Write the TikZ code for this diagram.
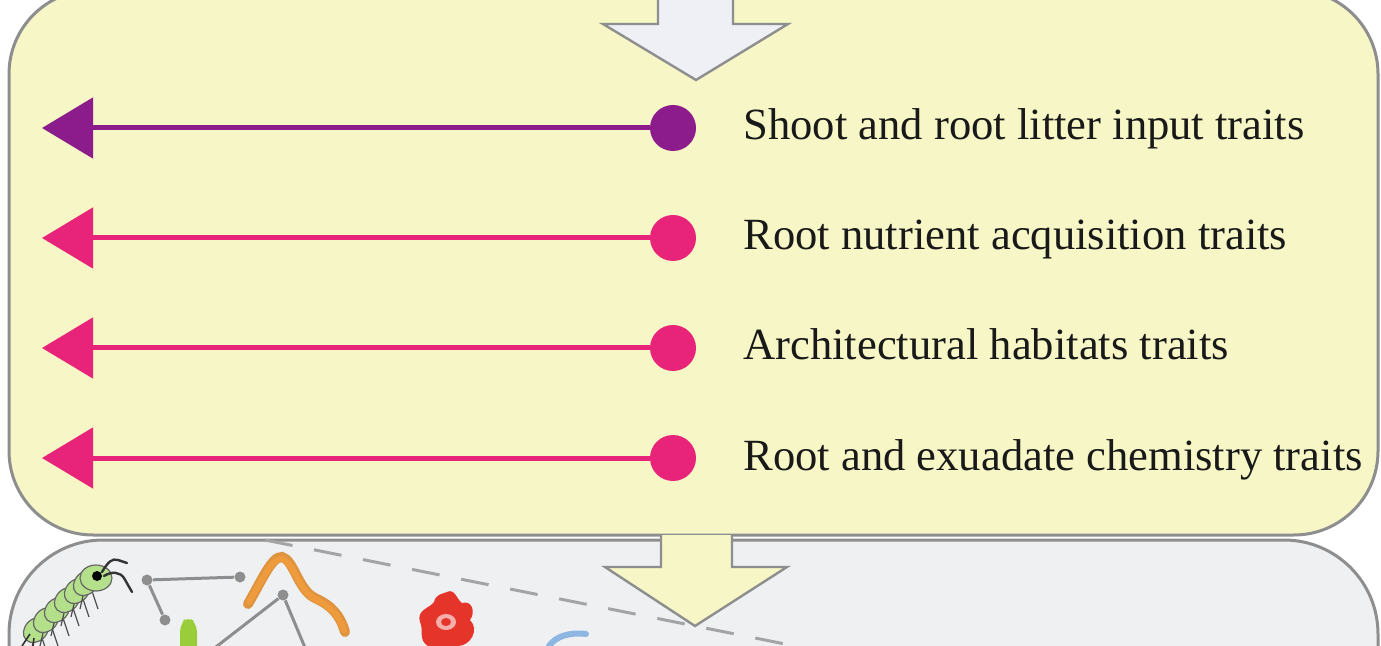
\documentclass[tikz,border=0pt]{standalone}
\usepackage{fontspec}
\setmainfont{Liberation Serif}
\usetikzlibrary{arrows.meta}
\definecolor{traitpurple}{HTML}{8C1C8C}
\definecolor{traitpink}{HTML}{E8247A}
\definecolor{panelyellow}{HTML}{F6F6C6}
\definecolor{panelgrey}{HTML}{EFF0F2}
\definecolor{edgegrey}{HTML}{8E8E8E}
\definecolor{arrowwhite}{HTML}{EEF0F6}
\definecolor{bugreen}{HTML}{B4E08C}
\definecolor{wormorange}{HTML}{EE9B3E}
\definecolor{amoebared}{HTML}{E5352B}
\definecolor{leafgreen}{HTML}{9ACD3A}
\definecolor{shellblue}{HTML}{8DB6E2}

\begin{document}
\begin{tikzpicture}[x=0.5pt,y=-0.5pt,
    panel/.style={draw=edgegrey, line width=1.5pt},
    bigarrow/.style={draw=edgegrey, line width=1.2pt, line join=miter},
    dot/.style={circle, inner sep=0pt, minimum size=23pt},
    trait/.style={line width=2.5pt, -{Triangle[length=25.5pt,width=30pt]}},
    traitname/.style={anchor=base west, inner sep=0pt, text=black!90, font=\fontsize{22.3}{26}\selectfont},
    netdot/.style={circle, fill=edgegrey, inner sep=0pt, minimum size=5.5pt}]
  \useasboundingbox (0,0) rectangle (1381,646);
  \clip (0,0) rectangle (1381,646);

  \draw[panel, fill=panelgrey, rounded corners=47pt] (9,540) rectangle (1378,800);
  \draw[panel, fill=panelyellow, rounded corners=42pt] (9,-10) rectangle (1378,535);

  \draw[bigarrow, fill=arrowwhite] (658,-10) -- (658,24) -- (603,24) -- (696,80)
    -- (788,24) -- (733,24) -- (733,-10);
  \draw[bigarrow, fill=panelyellow] (661,535) -- (661,567) -- (605,567) -- (695,626)
    -- (787,567) -- (732,567) -- (732,535);

  \node[dot, fill=traitpurple] (d1) at (673,128) {};
  \coordinate (t1) at (42,128);
  \draw[trait, traitpurple] (d1) -- (t1);
  \node[traitname] (n1) at (743,140) {Shoot and root litter input traits};

  \node[dot, fill=traitpink] (d2) at (673,238) {};
  \coordinate (t2) at (42,238);
  \draw[trait, traitpink] (d2) -- (t2);
  \node[traitname] (n2) at (743,250) {Root nutrient acquisition traits};

  \node[dot, fill=traitpink] (d3) at (673,348) {};
  \coordinate (t3) at (42,348);
  \draw[trait, traitpink] (d3) -- (t3);
  \node[traitname] (n3) at (743,360) {Architectural habitats traits};

  \node[dot, fill=traitpink] (d4) at (673,458) {};
  \coordinate (t4) at (42,458);
  \draw[trait, traitpink] (d4) -- (t4);
  \node[traitname] (n4) at (743,470) {Root and exuadate chemistry traits};

  % soil food web below
  \node[netdot] (w1) at (147,580) {};
  \node[netdot] (w2) at (240,577) {};
  \node[netdot] (w3) at (165,620) {};
  \node[netdot] (w4) at (283,595) {};
  \coordinate (w5) at (212,650);
  \coordinate (w6) at (306,650);
  \draw[edgegrey, line width=1.5pt] (w1) -- (w2) (w1) -- (w3) (w4) -- (w5) (w4) -- (w6);

  \fill[leafgreen, rounded corners=4pt] (180,646) -- (180,624) -- (188,616) -- (197,624) -- (197,646);

  \draw[wormorange!70!brown, line width=5pt, line cap=round]
    (248,604) .. controls (262,580) and (272,556) .. (282,557)
    .. controls (294,560) and (298,590) .. (315,598)
    .. controls (332,606) and (340,615) .. (345,632);
  \draw[wormorange, line width=3pt, line cap=round]
    (249,602) .. controls (262,580) and (272,558) .. (282,559)
    .. controls (294,562) and (298,590) .. (315,599)
    .. controls (331,607) and (339,616) .. (344,630);

  \fill[amoebared] (447,592) .. controls (455,588) and (457,600) .. (462,603)
    .. controls (472,600) and (476,612) .. (470,620)
    .. controls (480,630) and (470,646) .. (458,646)
    -- (428,646) .. controls (418,640) and (424,630) .. (420,622)
    .. controls (416,610) and (430,608) .. (434,602)
    .. controls (436,594) and (442,594) .. (447,592);
  \fill[amoebared!40!white] (446,622) ellipse (5pt and 4pt);
  \fill[amoebared] (446,622) ellipse (2.5pt and 2pt);

  \draw[shellblue, line width=3pt, line cap=round] (549,646) .. controls (556,636) and (570,632) .. (586,634);

  \draw[edgegrey!80, line width=1.5pt, dash pattern=on 14pt off 11pt] (265,540) -- (820,651);

  % springtail
  \foreach \bx/\by in {36/630, 46/620, 57/610, 67/600, 77/591, 86/583} {
    \draw[black!70, line width=0.6pt] (\bx,\by) -- (\bx-6,\by+26);
    \draw[black!70, line width=0.6pt] (\bx+4,\by+2) -- (\bx+12,\by+26);
    \draw[fill=bugreen, draw=black!60, line width=0.6pt, rotate around={45:(\bx,\by)}] (\bx,\by) ellipse (7pt and 5.5pt);
  }
  \draw[fill=bugreen, draw=black!60, line width=0.6pt] (96,578) ellipse (8pt and 6.5pt);
  \fill[black] (97,576) circle (2.5pt);
  \draw[black!80, line width=1.2pt, line cap=round]
    (102,572) .. controls (108,562) and (112,558) .. (118,560) -- (127,563);
  \draw[black!80, line width=1.2pt, line cap=round]
    (104,576) .. controls (112,571) and (120,572) .. (124,578) -- (132,592);
  \draw[black!80, line width=0.8pt] (30,634) -- (22,646) (34,638) -- (33,646);
\end{tikzpicture}
\end{document}
